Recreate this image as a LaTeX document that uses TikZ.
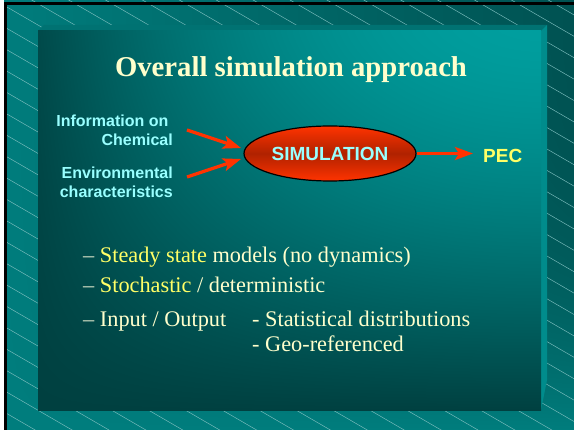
\documentclass[tikz,border=0pt]{standalone}
\usepackage{fontspec}
\setmainfont{Liberation Serif}
\newfontfamily\labelfont{Liberation Sans}
\usetikzlibrary{arrows.meta,shapes.geometric}

\definecolor{cream}{RGB}{255,255,204}
\definecolor{hilite}{RGB}{255,255,102}
\definecolor{dashgrey}{RGB}{212,224,198}
\definecolor{cyanlbl}{RGB}{153,255,255}
\definecolor{arrowred}{RGB}{255,51,0}
\definecolor{ovaldark}{RGB}{176,34,0}
\definecolor{hatch}{RGB}{125,190,190}
\definecolor{bevtop}{RGB}{0,114,114}
\definecolor{bevside}{RGB}{0,140,140}

% slide panel: dark on the left and at the bottom, bright towards the upper right
\pgfdeclarefunctionalshading{panelglow}{\pgfpointorigin}{\pgfpoint{100bp}{100bp}}{}{
  75 exch sub 50 div dup 0 lt {pop 0} if dup 1 gt {pop 1} if
  exch 25 sub 50 div dup 0 lt {pop 0} if dup 1 gt {pop 1} if
  dup 2 exch sub mul
  1 index dup sqrt mul 1 exch sub
  mul 0.33 mul
  exch 1 exch sub 0.04 mul add 0.25 add
  dup 0 3 1 roll
}
% backdrop: teal, darker towards the upper right corner
\pgfdeclarefunctionalshading{backdrop}{\pgfpointorigin}{\pgfpoint{100bp}{100bp}}{}{
  75 exch sub 50 div dup 0 lt {pop 0} if dup 1 gt {pop 1} if
  exch 25 sub 50 div dup 0 lt {pop 0} if dup 1 gt {pop 1} if
  exch dup dup mul mul 1 exch sub
  mul 0.17 mul 0.49 exch sub
  dup 0 3 1 roll
}

\begin{document}
\begin{tikzpicture}[x=1pt,y=-1pt,
  lbl/.style={font=\labelfont\bfseries\fontsize{16}{19}\selectfont, text=cyanlbl,
    align=right, inner sep=0pt, anchor=north east},
  flow/.style={draw=arrowred, line width=3.2pt,
    -{Stealth[length=18pt,width=13pt,inset=4pt]}},
  bullet/.style={font=\fontsize{22.3}{26}\selectfont, text=cream, inner sep=0pt,
    anchor=base west},
]
\useasboundingbox (0,0) rectangle (574,430);

% backdrop with diagonal hatching
\shade[shading=backdrop] (0,0) rectangle (574,430);
\begin{scope}
  \clip (0,0) rectangle (574,430);
  \foreach \k in {-19,...,23}{
    \pgfmathsetmacro\c{67.2+21.4*\k}
    \draw[hatch, line width=0.45pt] (0,\c) -- (574,\c+332.9);
  }
\end{scope}

% outer frame edges
\fill[white] (0,0) rectangle (4,430);
\fill[black] (4,2.5) rectangle (7,430);
\fill[black] (4,2.5) rectangle (574,5);

% raised panel with bevels
\fill[bevtop] (38,31) -- (44,25) -- (547,25) -- (541,31) -- cycle;
\fill[bevside] (541,31) -- (547,25) -- (547,380) -- (541,410) -- cycle;
\shade[shading=panelglow] (38,31) rectangle (541,411);

% title
\node[font=\bfseries\fontsize{28.7}{34}\selectfont, text=cream, anchor=base]
  (title) at (291,77) {Overall simulation approach};

% flow diagram
\node[lbl] (info) at (173,114.5) {Information on\kern4.4pt\\Chemical};
\node[lbl] (env) at (173,166.5) {Environmental\\characteristics};
\node[ellipse, draw=black, line width=1.2pt, minimum width=172pt, minimum height=55pt,
  inner sep=0pt, top color=arrowred, bottom color=arrowred, middle color=ovaldark,
  font=\labelfont\bfseries\fontsize{19}{23}\selectfont, text=cyanlbl]
  (sim) at (330,153.5) {SIMULATION};
\node[font=\labelfont\bfseries\fontsize{19}{23}\selectfont, text=hilite,
  anchor=base west, inner sep=0pt] (pec) at (483,163) {PEC};

\coordinate (a1s) at (187,130);
\coordinate (a1e) at (241,148);
\coordinate (a2s) at (187,177);
\coordinate (a2e) at (241,159);
\draw[flow] (a1s) -- (a1e);
\draw[flow] (a2s) -- (a2e);
\draw[flow, shorten >=10pt] (sim.east) -- (sim.east -| pec.west);

% bullet list
\node[bullet] (b1) at (83,263)
  {\textcolor{dashgrey}{–}\ \textcolor{hilite}{Steady state} models (no dynamics)};
\node[bullet] (b2) at (83,293)
  {\textcolor{dashgrey}{–}\ \textcolor{hilite}{Stochastic} / deterministic};
\node[bullet] (b3) at (83,327) {\textcolor{dashgrey}{–}\ Input / Output};
\node[bullet] (b3a) at (252,327) {- Statistical distributions};
\node[bullet] (b3b) at (252,352) {- Geo-referenced};
\end{tikzpicture}
\end{document}
